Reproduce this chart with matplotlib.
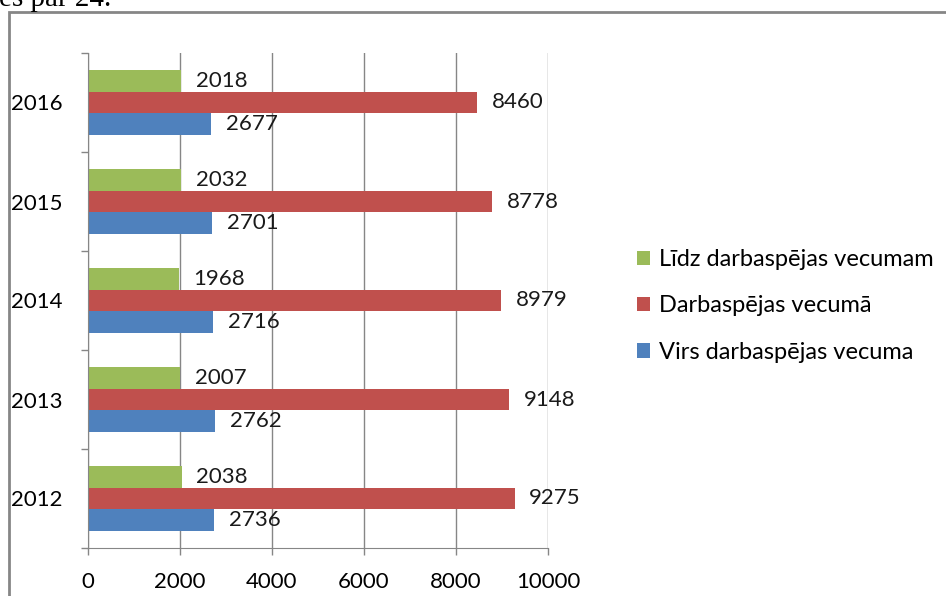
import numpy as np
import matplotlib.pyplot as plt
from matplotlib.patches import Rectangle

years = ['2012', '2013', '2014', '2015', '2016']
lidz = [2038, 2007, 1968, 2032, 2018]
darba = [9275, 9148, 8979, 8778, 8460]
virs = [2736, 2762, 2716, 2701, 2677]
labels = ['Līdz darbaspējas vecumam', 'Darbaspējas vecumā', 'Virs darbaspējas vecuma']
colors = ['#9BBB59', '#C0504D', '#4F81BD']

plt.rcParams['font.family'] = ['Lato', 'DejaVu Sans']
fs = 16

fig = plt.figure(figsize=(9.46, 5.96), dpi=100)
ax = fig.add_axes([88/946, 1 - 548/596, 460/946, 495/596])

y = np.arange(len(years))
h = 0.222
series = [lidz, darba, virs]
offsets = [h, 0, -h]
for vals, off, col, lab in zip(series, offsets, colors, labels):
    bars = ax.barh(y + off, vals, height=h, color=col, label=lab, zorder=3)
    for b, v in zip(bars, vals):
        ax.text(v + 320, b.get_y() + h / 2, str(v), va='center', ha='left',
                fontsize=fs, color='#1a1a1a', zorder=4)

ax.set_xlim(0, 10000)
ax.set_ylim(-0.5, 4.5)
ax.set_xticks([0, 2000, 4000, 6000, 8000, 10000])
ax.set_xticklabels(['0', '2000', '4000', '6000', '8000', '10000'], fontsize=fs)
ax.set_yticks(y)
ax.set_yticklabels(years, fontsize=fs)
ax.set_yticks(np.arange(-0.5, 5, 1), minor=True)
ax.tick_params(axis='y', which='major', length=0, pad=18.5)
ax.tick_params(axis='y', which='minor', length=5, width=1, color='#868686')
ax.tick_params(axis='x', length=5, width=1, color='#868686', pad=12)
ax.grid(axis='x', color='#868686', linewidth=1, zorder=0)
for s in ['top', 'right']:
    ax.spines[s].set_visible(False)
for s in ['left', 'bottom']:
    ax.spines[s].set_color('#868686')
    ax.spines[s].set_zorder(5)

handles, labs = ax.get_legend_handles_labels()
fig.legend(handles, labs, loc='center left', bbox_to_anchor=(616/946, 1 - 306/596),
           frameon=False, fontsize=17, handlelength=0.55, handleheight=0.55,
           handletextpad=0.35, labelspacing=1.07)

# outer frame of the chart
fig.patches.append(Rectangle((9/946, -0.1), 1.0, 1 - 12/596 + 0.1, transform=fig.transFigure,
                             fill=False, edgecolor='#868686', linewidth=2))
fig.text(-0.001, 1 - 6/596, 'es par 24.', family='Liberation Serif', fontsize=21,
         va='baseline', ha='left', color='black')

fig.savefig('out.png', dpi=100)
